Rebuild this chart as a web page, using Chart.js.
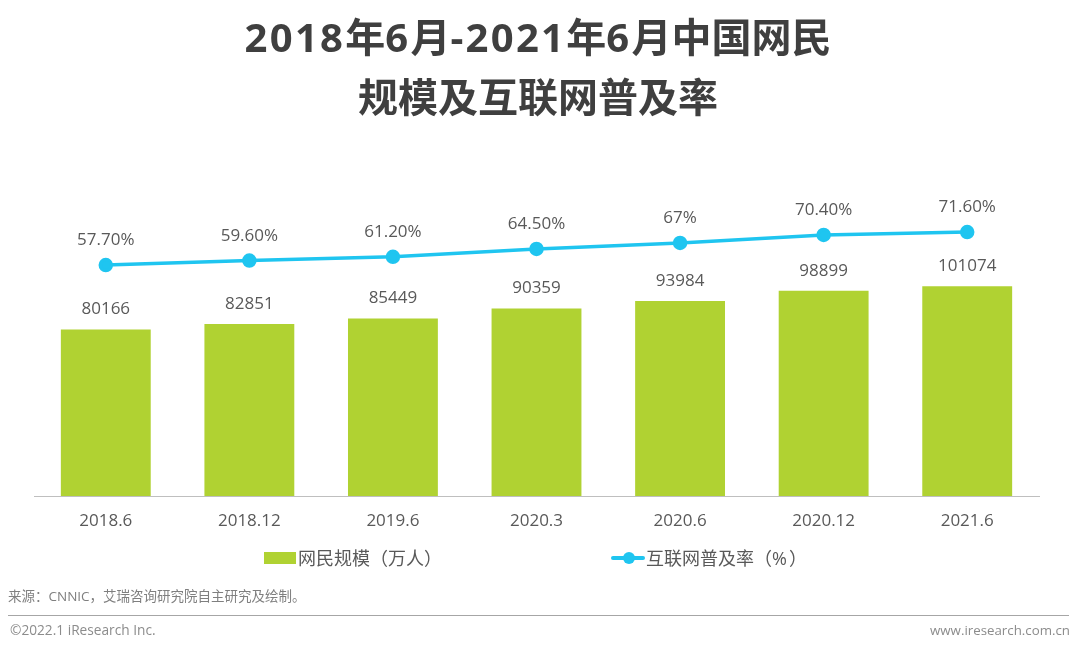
<!DOCTYPE html>
<html lang="zh-CN">
<head>
  <meta charset="UTF-8">
  <title>中国网民规模及互联网普及率</title>
  <script src="https://cdn.jsdelivr.net/npm/chart.js"></script>
  <style>
    html, body { margin: 0; padding: 0; background: #fff; }
    body { width: 1080px; height: 650px; position: relative; overflow: hidden; font-family: "Open Sans", "Noto Sans CJK SC", sans-serif; }
    canvas { position: absolute; left: 0; top: 0; }
    .abs { position: absolute; white-space: nowrap; }
    h1 { position: absolute; left: 0; top: 7px; width: 1076px; margin: 0; text-align: center; font-size: 40px; line-height: 60px; font-weight: 700; color: #3f3f3f; }
    h1 span { letter-spacing: 2.3px; }
    .legend { top: 546px; font-size: 18px; line-height: 24px; color: #595959; }
    .swatch { position: absolute; left: 264px; top: 552px; width: 32px; height: 12px; background: #b0d232; }
    .line-key { position: absolute; left: 611px; top: 556px; width: 34px; height: 4px; background: #1fc5f0; border-radius: 2px; }
    .line-key i { position: absolute; left: 12px; top: -4px; width: 12px; height: 12px; border-radius: 50%; background: #1fc5f0; }
    .source { left: 8px; top: 587px; font-size: 13.5px; line-height: 18px; color: #7f7f7f; }
    .rule { position: absolute; left: 8px; top: 615px; width: 1061px; height: 1px; background: #a6a6a6; }
    .foot { top: 621px; line-height: 18px; color: #8c8c8c; }
  </style>
</head>
<body>
  <canvas id="chart" width="1080" height="650"></canvas>
  <h1><span>2018</span>年<span>6</span>月<span>-2021</span>年<span>6</span>月中国网民<br>规模及互联网普及率</h1>
  <div class="swatch"></div>
  <div class="abs legend" style="left:298px">网民规模（万人）</div>
  <div class="line-key"><i></i></div>
  <div class="abs legend" style="left:646px">互联网普及率（<span style="letter-spacing:2px">%</span>）</div>
  <div class="abs source">来源：CNNIC，艾瑞咨询研究院自主研究及绘制。</div>
  <div class="rule"></div>
  <div class="abs foot" style="left:10px;font-size:13.7px">©2022.1 iResearch Inc.</div>
  <div class="abs foot" style="right:10px;font-size:13.3px">www.iresearch.com.cn</div>

  <script>
    const categories = ["2018.6", "2018.12", "2019.6", "2020.3", "2020.6", "2020.12", "2021.6"];
    const netizens = [80166, 82851, 85449, 90359, 93984, 98899, 101074];
    const penetration = [57.7, 59.6, 61.2, 64.5, 67, 70.4, 71.6];
    const penetrationLabels = ["57.70%", "59.60%", "61.20%", "64.50%", "67%", "70.40%", "71.60%"];

    // value labels above bars and points
    const valueLabels = {
      id: "valueLabels",
      afterDatasetsDraw(chart) {
        const ctx = chart.ctx;
        ctx.save();
        ctx.font = '17px "Open Sans", "Noto Sans CJK SC", sans-serif';
        ctx.fillStyle = "#595959";
        ctx.textAlign = "center";
        ctx.textBaseline = "middle";
        chart.getDatasetMeta(0).data.forEach((pt, i) => {
          ctx.fillText(penetrationLabels[i], pt.x, pt.y - 24.5);
        });
        chart.getDatasetMeta(1).data.forEach((bar, i) => {
          ctx.fillText(String(netizens[i]), bar.x, bar.y - 20);
        });
        ctx.restore();
      }
    };

    new Chart(document.getElementById("chart"), {
      type: "bar",
      data: {
        labels: categories,
        datasets: [
          {
            type: "line",
            label: "互联网普及率（%）",
            data: penetration,
            yAxisID: "yRate",
            borderColor: "#1fc5f0",
            backgroundColor: "#1fc5f0",
            borderWidth: 3.5,
            pointRadius: 5.5,
            tension: 0,
            order: 0
          },
          {
            label: "网民规模（万人）",
            data: netizens,
            yAxisID: "yPeople",
            backgroundColor: "#b0d232",
            categoryPercentage: 1,
            barPercentage: 0.626,
            order: 1
          }
        ]
      },
      options: {
        responsive: false,
        animation: false,
        layout: { padding: { left: 34, right: 41, top: 196, bottom: 114 } },
        plugins: { legend: { display: false }, tooltip: { enabled: false } },
        scales: {
          x: {
            grid: { drawOnChartArea: false, drawTicks: false },
            border: { color: "#bfbfbf", width: 1 },
            ticks: {
              padding: 15,
              maxRotation: 0,
              color: "#595959",
              font: { size: 17, family: '"Open Sans", "Noto Sans CJK SC", sans-serif' }
            },
            afterFit(scale) { scale.height = 40; }
          },
          yPeople: { display: false, min: 0, max: 144500 },
          yRate: { display: false, min: -39.6, max: 86.8 }
        }
      },
      plugins: [valueLabels]
    });
  </script>
</body>
</html>
